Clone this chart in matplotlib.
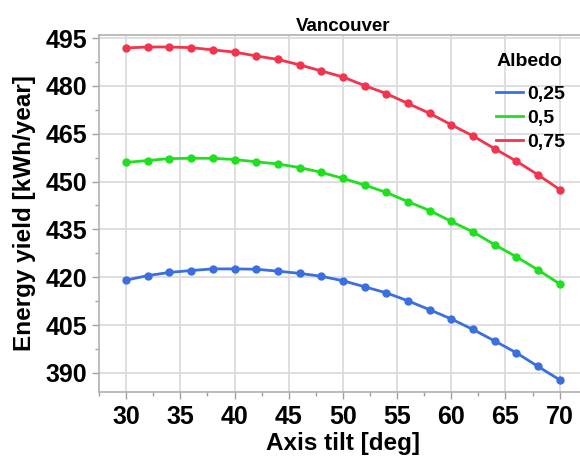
import matplotlib
matplotlib.use("Agg")
import matplotlib.pyplot as plt
from matplotlib.ticker import MultipleLocator

plt.rcParams['font.family'] = ['Liberation Sans', 'DejaVu Sans']

# Axis tilt (deg) and annual energy yield (kWh/year) per albedo
tilt = [30, 32, 34, 36, 38, 40, 42, 44, 46, 48, 50,
        52, 54, 56, 58, 60, 62, 64, 66, 68, 70]
yield_025 = [419.1, 420.5, 421.5, 422.1, 422.6, 422.6, 422.5, 421.9, 421.2, 420.3, 418.9,
             417.0, 415.1, 412.6, 409.8, 406.9, 403.6, 400.0, 396.3, 392.0, 387.8]
yield_05 = [456.0, 456.6, 457.2, 457.3, 457.3, 456.9, 456.2, 455.5, 454.4, 452.9, 451.0,
            448.9, 446.6, 443.7, 440.9, 437.5, 434.2, 430.2, 426.4, 422.3, 417.9]
yield_075 = [491.9, 492.2, 492.2, 492.0, 491.3, 490.6, 489.4, 488.3, 486.6, 484.7, 482.8,
             480.1, 477.6, 474.5, 471.4, 467.8, 464.3, 460.3, 456.4, 452.1, 447.5]
albedo_labels = ['0,25', '0,5', '0,75']
colors = ['#3b6fe0', '#1ee01e', '#f2344e']
y_ticks = [390, 405, 420, 435, 450, 465, 480, 495]
x_ticks = [30, 35, 40, 45, 50, 55, 60, 65, 70]

fig = plt.figure(figsize=(5.8, 4.59), dpi=100)
# plot area runs past the right edge of the canvas
ax = fig.add_axes([0.1707, 0.146, 0.841, 0.778])

for ys, lab, c in zip([yield_025, yield_05, yield_075], albedo_labels, colors):
    ax.plot(tilt, ys, color=c, lw=2, marker='o', ms=5, label=lab)

ax.set_xlim(27.5, 72.5)
ax.set_ylim(384, 496)
ax.set_xticks(x_ticks)
ax.set_yticks(y_ticks)
ax.xaxis.set_minor_locator(MultipleLocator(2.5))
ax.yaxis.set_minor_locator(MultipleLocator(7.5))
ax.grid(True, which='major', color='#dcdcdc', lw=1.3)
ax.set_axisbelow(True)

for s in ['left', 'bottom', 'top']:
    ax.spines[s].set_color('#b0b0b0')
    ax.spines[s].set_linewidth(1.2)
ax.spines['right'].set_visible(False)

ax.tick_params(which='major', length=5, width=1, color='#a0a0a0', labelsize=18)
ax.tick_params(which='minor', length=3, width=1, color='#a0a0a0')
ax.tick_params(axis='x', which='major', pad=4.5)
ax.tick_params(axis='y', which='major', pad=3.5)
for lbl in ax.get_xticklabels() + ax.get_yticklabels():
    lbl.set_fontweight('bold')

ax.set_xlabel('Axis tilt [deg]', fontsize=17.5, fontweight='bold', labelpad=2)
ax.set_ylabel('Energy yield [kWh/year]', fontsize=17.5, fontweight='bold', labelpad=7)
ax.set_title('Vancouver', fontsize=13.5, fontweight='bold', pad=3)

leg = ax.legend(loc='upper left', bbox_to_anchor=(496 / 580, 0.814),
                bbox_transform=fig.transFigure, frameon=False, fontsize=14,
                handlelength=1.4, handletextpad=0.19, labelspacing=0.32,
                borderpad=0, borderaxespad=0)
for t in leg.get_texts():
    t.set_fontweight('bold')
for h in leg.legend_handles:
    h.set_marker('')
fig.text(529 / 580, 1 - 62 / 459, 'Albedo', fontsize=14, fontweight='bold',
         ha='center', va='center')

fig.savefig('out.png', dpi=100)
